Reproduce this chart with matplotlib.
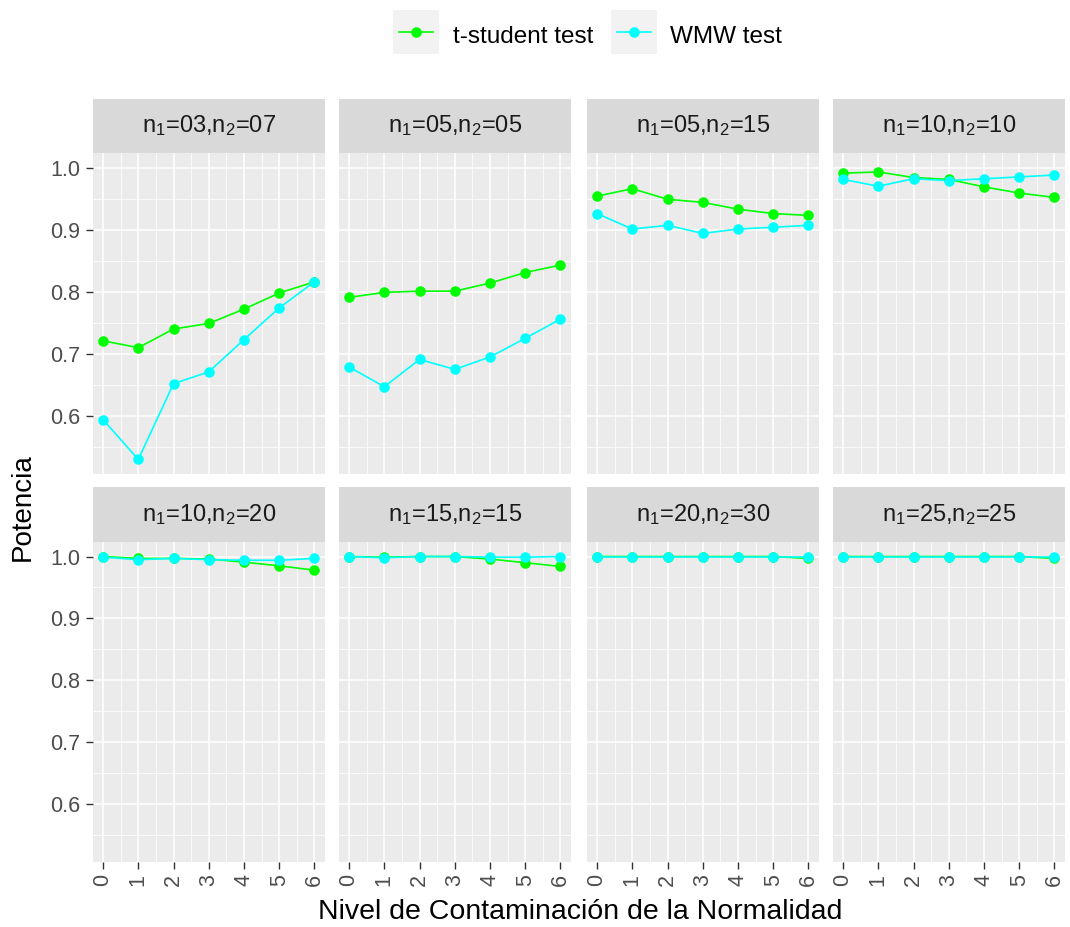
import matplotlib
matplotlib.use("Agg")
import matplotlib.pyplot as plt
import numpy as np

plt.rcParams['font.family'] = ['Liberation Sans', 'DejaVu Sans']
plt.rcParams['mathtext.fontset'] = 'custom'
plt.rcParams['mathtext.rm'] = 'Liberation Sans'
plt.rcParams['mathtext.it'] = 'Liberation Sans'

# Contamination levels on the x axis
levels = [0, 1, 2, 3, 4, 5, 6]

# Sample-size combinations (one facet each)
facets = ["03,07", "05,05", "05,15", "10,10", "10,20", "15,15", "20,30", "25,25"]

# Power of the t-student test per facet
t_student = [
    [0.721, 0.710, 0.740, 0.749, 0.772, 0.798, 0.816],
    [0.791, 0.799, 0.801, 0.801, 0.814, 0.831, 0.843],
    [0.954, 0.966, 0.949, 0.944, 0.933, 0.926, 0.923],
    [0.991, 0.993, 0.984, 0.981, 0.969, 0.959, 0.952],
    [1.000, 0.997, 0.997, 0.996, 0.991, 0.985, 0.978],
    [1.000, 0.999, 1.000, 1.000, 0.996, 0.990, 0.984],
    [1.000, 1.000, 1.000, 1.000, 1.000, 1.000, 0.997],
    [1.000, 1.000, 1.000, 1.000, 1.000, 1.000, 0.997],
]

# Power of the WMW test per facet
wmw = [
    [0.594, 0.530, 0.652, 0.671, 0.723, 0.774, 0.816],
    [0.679, 0.647, 0.691, 0.675, 0.695, 0.725, 0.756],
    [0.926, 0.901, 0.907, 0.894, 0.901, 0.904, 0.907],
    [0.981, 0.970, 0.982, 0.979, 0.982, 0.985, 0.988],
    [0.999, 0.995, 0.997, 0.995, 0.994, 0.994, 0.997],
    [1.000, 0.998, 1.000, 1.000, 0.999, 0.999, 1.000],
    [1.000, 1.000, 1.000, 1.000, 1.000, 1.000, 1.000],
    [1.000, 1.000, 1.000, 1.000, 1.000, 1.000, 1.000],
]

series_names = ["t-student test", "WMW test"]
series_colors = ["#00FF00", "#00FFFF"]

y_major = [0.6, 0.7, 0.8, 0.9, 1.0]
y_minor = [0.55, 0.65, 0.75, 0.85, 0.95, 1.05]

W, H = 1070, 927
fig = plt.figure(figsize=(W / 100, H / 100), dpi=100)
fig.patch.set_facecolor("white")


def frac(x0, y0, x1, y1):
    return [x0 / W, 1 - y1 / H, (x1 - x0) / W, (y1 - y0) / H]


col_left = [92.5, 338.5, 586.5, 832.5]
panel_w = 232.5
rows = [(99, 153, 474), (487, 542, 862)]  # strip top, panel top, panel bottom

all_vals = np.concatenate([np.ravel(t_student), np.ravel(wmw)])
lo, hi = all_vals.min(), all_vals.max()
pad = (hi - lo) * 0.05
ylim = (lo - pad, hi + pad)
span = max(levels) - min(levels)
xlim = (min(levels) - 0.05 * span, max(levels) + 0.05 * span)

tick_color = "#333333"
label_color = "#4D4D4D"
tick_fs = 15.5
marker_size = 7.6

for i, name in enumerate(facets):
    r, c = divmod(i, 4)
    s_top, p_top, p_bot = rows[r]
    x0 = col_left[c]
    ax = fig.add_axes(frac(x0, p_top, x0 + panel_w, p_bot))
    ax.set_facecolor("#EBEBEB")
    for sp in ax.spines.values():
        sp.set_visible(False)
    ax.set_xticks(levels)
    ax.set_xticks([v + 0.5 for v in levels[:-1]], minor=True)
    ax.set_yticks(y_major)
    ax.set_yticks(y_minor, minor=True)
    ax.set_xlim(*xlim)
    ax.set_ylim(*ylim)
    ax.grid(which="major", color="white", linewidth=1.1)
    ax.grid(which="minor", color="white", linewidth=0.55)
    ax.set_axisbelow(True)
    ax.tick_params(which="minor", length=0)
    ax.tick_params(which="major", length=4.7, width=1.0, color=tick_color)
    if c == 0:
        ax.set_yticklabels([f"{v:.1f}" for v in y_major], color=label_color,
                           fontsize=tick_fs)
        ax.tick_params(axis="y", pad=4)
    else:
        ax.tick_params(axis="y", length=0, labelleft=False)
    if r == 1:
        ax.set_xticklabels([str(v) for v in levels], color=label_color,
                           fontsize=tick_fs, rotation=90)
        ax.tick_params(axis="x", pad=4)
    else:
        ax.tick_params(axis="x", length=0, labelbottom=False)

    for vals, col in zip([t_student[i], wmw[i]], series_colors):
        ax.plot(levels, vals, color=col, linewidth=1.2, zorder=2)
    for vals, col in zip([t_student[i], wmw[i]], series_colors):
        ax.plot(levels, vals, linestyle="none", marker="o",
                markersize=marker_size, color=col, markeredgewidth=0,
                zorder=3)

    # facet strip
    sax = fig.add_axes(frac(x0, s_top, x0 + panel_w, p_top))
    sax.set_facecolor("#D9D9D9")
    sax.set_xticks([])
    sax.set_yticks([])
    for sp in sax.spines.values():
        sp.set_visible(False)
    n1, n2 = name.split(",")
    label = r"n$\mathregular{_1}$=" + n1 + r",n$\mathregular{_2}$=" + n2
    sax.text(0.5, 0.5, label, ha="center", va="center", fontsize=17,
             color="#1A1A1A", transform=sax.transAxes)

# axis titles
fig.text(580 / W, 1 - 912 / H, "Nivel de Contaminación de la Normalidad",
         ha="center", va="center", fontsize=20.5, color="black")
fig.text(23 / W, 1 - 507 / H, "Potencia", ha="center", va="center",
         rotation=90, fontsize=20, color="black")

# legend
key_lefts = [393, 611]
text_lefts = [453, 670]
for name, col, kx, tx in zip(series_names, series_colors, key_lefts, text_lefts):
    kax = fig.add_axes(frac(kx, 10, kx + 46, 54))
    kax.set_facecolor("#F2F2F2")
    kax.set_xlim(0, 1)
    kax.set_ylim(0, 1)
    kax.set_xticks([])
    kax.set_yticks([])
    for sp in kax.spines.values():
        sp.set_visible(False)
    kax.plot([0.13, 0.87], [0.5, 0.5], color=col, linewidth=1.2)
    kax.plot([0.5], [0.5], marker="o", markersize=marker_size, color=col,
             markeredgewidth=0)
    fig.text(tx / W, 1 - 37 / H, name, ha="left", va="center",
             fontsize=17.5, color="black")

fig.savefig("out.png", dpi=100, facecolor="white")
